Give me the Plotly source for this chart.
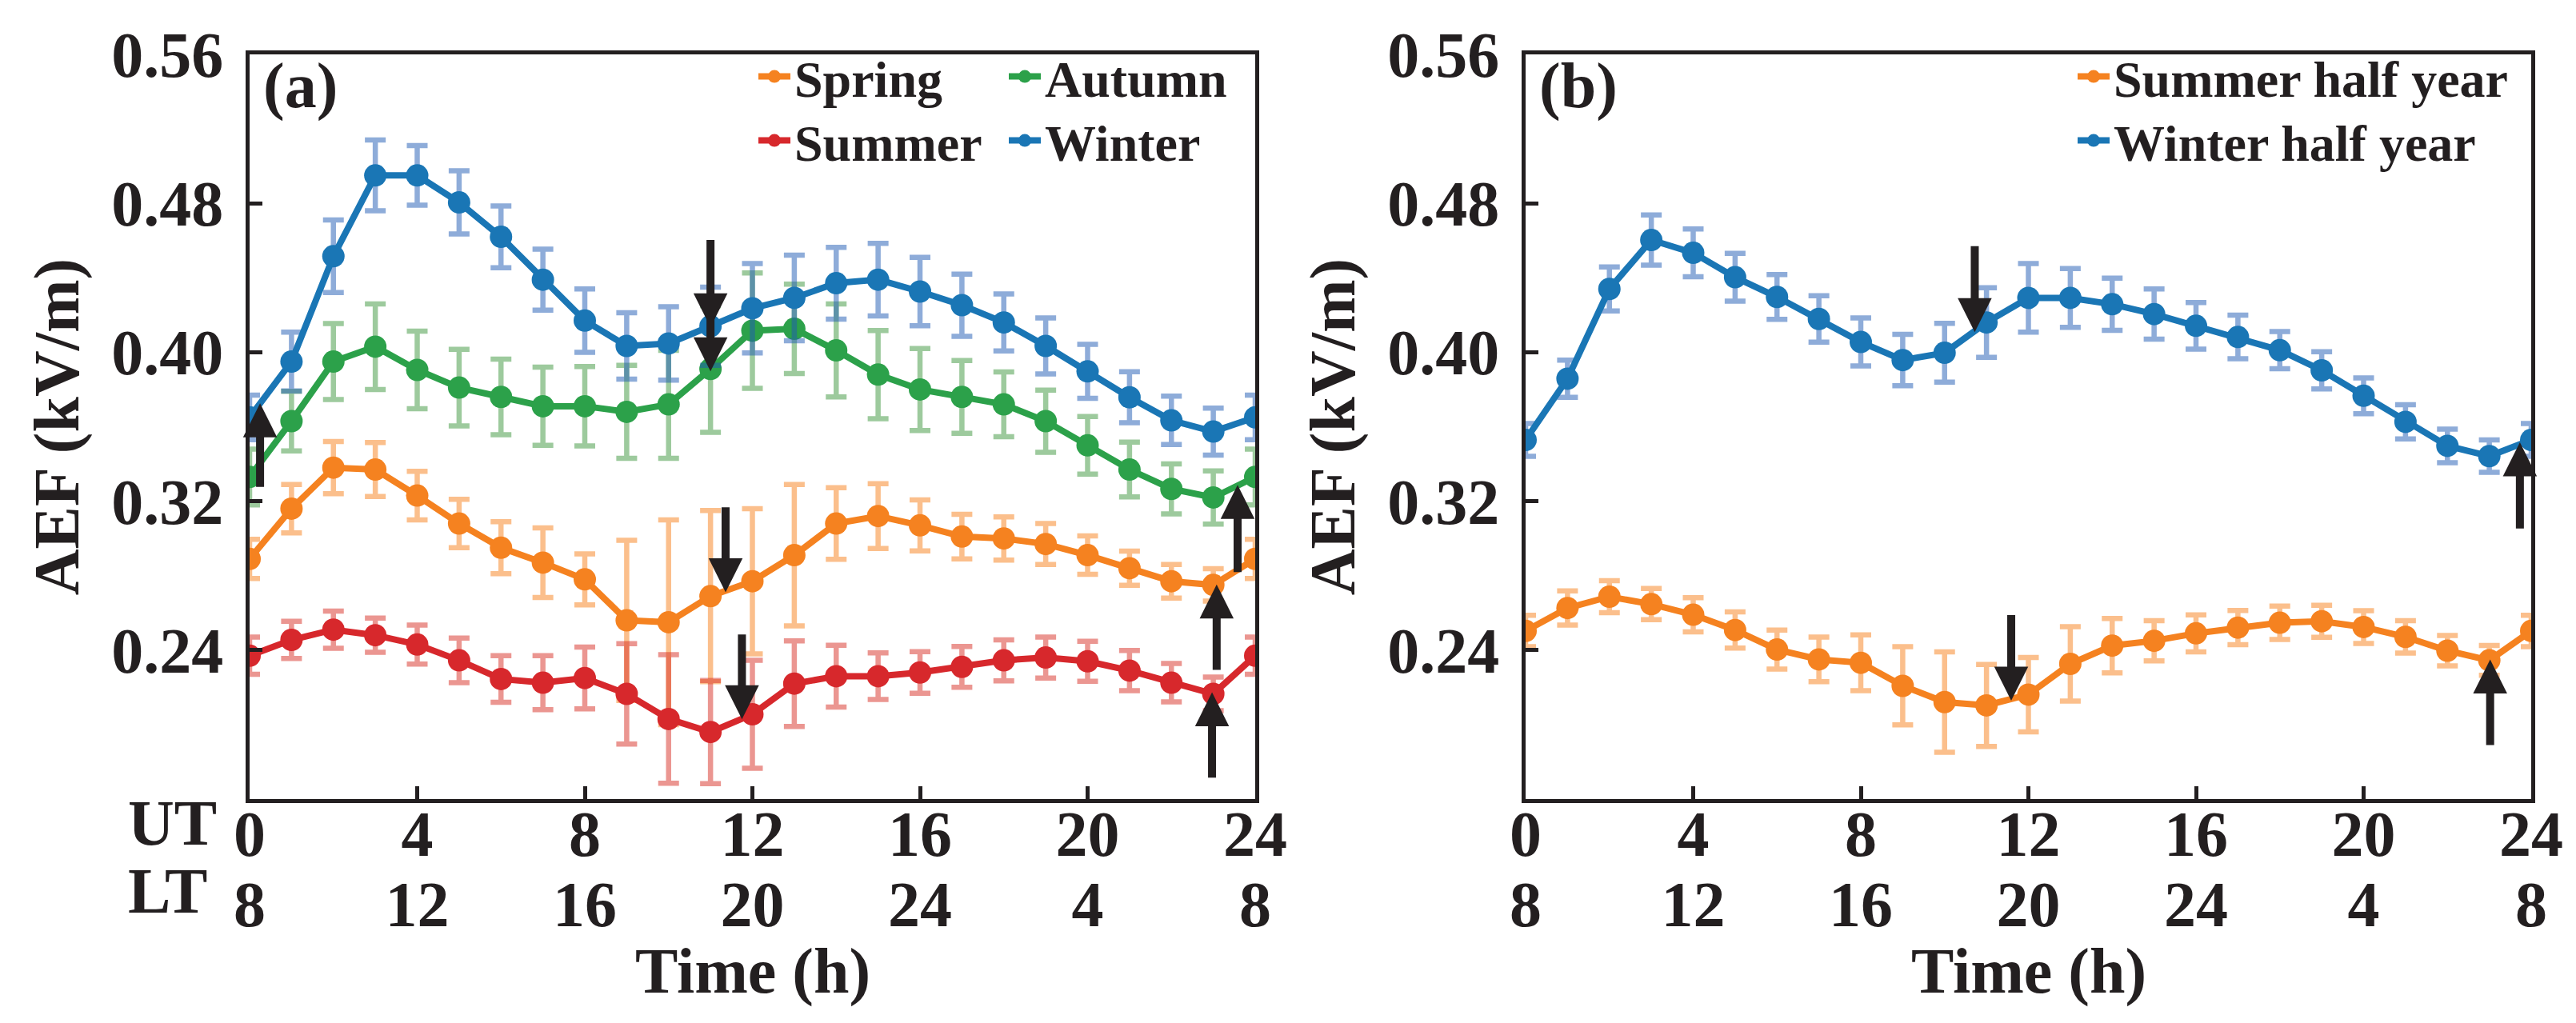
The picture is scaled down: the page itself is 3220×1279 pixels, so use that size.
import plotly.graph_objects as go

hours = list(range(25))
ut_ticks = [0, 4, 8, 12, 16, 20, 24]
ut_text = ["0", "4", "8", "12", "16", "20", "24"]
lt_text = ["8", "12", "16", "20", "24", "4", "8"]
y_ticks = [0.24, 0.32, 0.40, 0.48, 0.56]

# panel (a): seasons
spring = [0.289, 0.316, 0.338, 0.337, 0.323, 0.308, 0.295, 0.287, 0.278, 0.256, 0.255, 0.269, 0.277,
          0.291, 0.308, 0.312, 0.307, 0.301, 0.300, 0.297, 0.291, 0.284, 0.277, 0.275, 0.289]
spring_err = [0.0105, 0.013, 0.014, 0.0145, 0.013, 0.013, 0.014, 0.0187, 0.0137, 0.043, 0.055, 0.046, 0.039,
              0.038, 0.0192, 0.0174, 0.0137, 0.012, 0.0116, 0.011, 0.0103, 0.0092, 0.009, 0.0087, 0.0105]
summer = [0.237, 0.2455, 0.251, 0.248, 0.243, 0.2345, 0.2245, 0.2225, 0.225, 0.2165, 0.203, 0.196, 0.2055,
          0.222, 0.226, 0.226, 0.228, 0.231, 0.2345, 0.236, 0.234, 0.229, 0.2225, 0.2165, 0.237]
summer_err = [0.010, 0.010, 0.010, 0.0092, 0.0105, 0.012, 0.0125, 0.0145, 0.0166, 0.027, 0.0345, 0.0277, 0.029,
              0.023, 0.0166, 0.0125, 0.0112, 0.011, 0.011, 0.011, 0.0107, 0.0108, 0.0103, 0.009, 0.010]
autumn = [0.333, 0.363, 0.395, 0.403, 0.3905, 0.381, 0.376, 0.371, 0.371, 0.368, 0.372, 0.391, 0.4116,
          0.4126, 0.401, 0.388, 0.380, 0.376, 0.372, 0.363, 0.350, 0.337, 0.3266, 0.322, 0.333]
autumn_err = [0.015, 0.016, 0.0204, 0.023, 0.0208, 0.0206, 0.0203, 0.021, 0.0213, 0.025, 0.029, 0.034, 0.031,
              0.024, 0.025, 0.0237, 0.022, 0.0195, 0.0174, 0.0167, 0.0155, 0.0147, 0.0134, 0.0143, 0.015]
winter = [0.365, 0.395, 0.4516, 0.495, 0.495, 0.4805, 0.462, 0.439, 0.417, 0.4034, 0.4047, 0.414, 0.4236,
          0.4292, 0.4371, 0.439, 0.4326, 0.4253, 0.416, 0.4034, 0.3897, 0.3758, 0.3634, 0.3574, 0.365]
winter_err = [0.012, 0.0158, 0.0195, 0.019, 0.016, 0.017, 0.0166, 0.0164, 0.017, 0.0178, 0.0197, 0.021, 0.024,
              0.023, 0.0193, 0.0195, 0.0184, 0.0167, 0.0153, 0.015, 0.0145, 0.0137, 0.013, 0.0126, 0.012]

# panel (b): half years
summer_half = [0.2503, 0.2626, 0.2687, 0.2647, 0.259, 0.2508, 0.2403, 0.235, 0.2332, 0.2208, 0.2121, 0.2103,
               0.2161, 0.2326, 0.2424, 0.245, 0.249, 0.2521, 0.2547, 0.2555, 0.2524, 0.2471, 0.2397, 0.2345, 0.2503]
summer_half_err = [0.0084, 0.0092, 0.0086, 0.0084, 0.0092, 0.0097, 0.0105, 0.012, 0.015, 0.021, 0.027, 0.022,
                   0.020, 0.020, 0.0146, 0.0108, 0.0099, 0.0092, 0.009, 0.0086, 0.0088, 0.0087, 0.0082, 0.008, 0.0084]
winter_half = [0.3529, 0.3858, 0.434, 0.4603, 0.4534, 0.4403, 0.4297, 0.4179, 0.4055, 0.3958, 0.3997, 0.416,
               0.4292, 0.4292, 0.4258, 0.4205, 0.4142, 0.4082, 0.4011, 0.3903, 0.3766, 0.3626, 0.3497, 0.3442, 0.3529]
winter_half_err = [0.0088, 0.010, 0.0118, 0.0135, 0.0128, 0.0128, 0.012, 0.0125, 0.0129, 0.0138, 0.0158, 0.0187,
                   0.0184, 0.0158, 0.014, 0.0135, 0.0125, 0.0117, 0.010, 0.010, 0.0096, 0.0092, 0.009, 0.0087, 0.0088]

# arrows: hour, tail value, tip value
arrows_a_x = [0.25, 11, 11, 11.36, 11.75, 23.58, 23.08, 22.97]
arrows_a_tail = [0.327, 0.461, 0.420, 0.3174, 0.249, 0.2813, 0.2287, 0.1708]
arrows_a_tip = [0.3726, 0.4134, 0.3897, 0.2711, 0.2029, 0.3287, 0.2753, 0.2174]
arrows_b_x = [10.72, 11.59, 23.73, 23.02]
arrows_b_tail = [0.4576, 0.2595, 0.3047, 0.1884]
arrows_b_tip = [0.4108, 0.2129, 0.3516, 0.235]

INK = "#231f20"
FONT = "Liberation Serif"
W, H = 3220, 1279

fig = go.Figure()


def add_series(name, y, err, color, errcolor, xa, ya, legend):
    fig.add_trace(go.Scatter(
        x=hours, y=y, name=name, mode="lines+markers",
        line=dict(color=color, width=8),
        marker=dict(color=color, size=28),
        error_y=dict(type="data", array=err, visible=True, color=errcolor, thickness=6.5, width=13),
        xaxis=xa, yaxis=ya, legend=legend,
    ))


add_series("Spring", spring, spring_err, "#f58220", "rgba(247,128,25,0.5)", "x", "y", "legend")
add_series("Summer", summer, summer_err, "#d7282c", "rgba(215,45,35,0.5)", "x", "y", "legend2")
add_series("Autumn", autumn, autumn_err, "#2ca14a", "rgba(60,150,60,0.5)", "x", "y", "legend")
add_series("Winter", winter, winter_err, "#1a76b5", "rgba(30,90,180,0.5)", "x", "y", "legend2")
add_series("Summer half year", summer_half, summer_half_err, "#f58220", "rgba(247,128,25,0.5)", "x2", "y2", "legend3")
add_series("Winter half year", winter_half, winter_half_err, "#1a76b5", "rgba(30,90,180,0.5)", "x2", "y2", "legend4")

big = dict(family=FONT, size=80, color=INK, weight="bold")
base_x = dict(range=[0, 24], tickvals=ut_ticks, ticktext=ut_text, ticks="inside", ticklen=16, tickwidth=4.5,
              tickcolor=INK, showline=True, linewidth=4.5, linecolor=INK, mirror=True, showgrid=False,
              zeroline=False, tickfont=big, ticklabelstandoff=-30, automargin=False)
base_y = dict(range=[0.16, 0.56], tickvals=y_ticks, ticktext=["%.2f" % v for v in y_ticks], ticks="inside",
              ticklen=16, tickwidth=4.5, tickcolor=INK, showline=True, linewidth=4.5, linecolor=INK,
              mirror=True, showgrid=False, zeroline=False, tickfont=big, ticklabelstandoff=12, automargin=False,
              title=dict(text="AEF (kV/m)", font=big, standoff=16))
lt_x = dict(range=[0, 24], tickvals=ut_ticks, ticktext=lt_text, ticks="", showline=False, showgrid=False,
            zeroline=False, tickfont=big, ticklabelstandoff=78, side="bottom", automargin=False)

dom_a = [304 / W, 1561 / W]
dom_b = [1899 / W, 3156 / W]
dom_y = [1 - 991 / H, 1 - 60 / H]

fig.update_layout(
    width=W, height=H, margin=dict(l=0, r=0, t=0, b=0, autoexpand=False),
    paper_bgcolor="white", plot_bgcolor="white",
    font=dict(family=FONT, color=INK),
    xaxis=dict(base_x, domain=dom_a, anchor="y"),
    yaxis=dict(base_y, domain=dom_y, anchor="x"),
    xaxis2=dict(base_x, domain=dom_b, anchor="y2"),
    yaxis2=dict(base_y, domain=dom_y, anchor="x2"),
    xaxis3=dict(lt_x, overlaying="x", anchor="y"),
    xaxis4=dict(lt_x, overlaying="x2", anchor="y2"),
    showlegend=True,
)

leg_font = dict(family=FONT, size=64, color=INK, weight="bold")
leg_common = dict(orientation="h", font=leg_font, bgcolor="rgba(0,0,0,0)", entrywidthmode="pixels",
                  xanchor="left", yanchor="middle", itemwidth=40, tracegroupgap=0)
fig.update_layout(
    legend=dict(leg_common, x=935 / W, y=1 - 88 / H, entrywidth=258),
    legend2=dict(leg_common, x=935 / W, y=1 - 168 / H, entrywidth=258),
    legend3=dict(leg_common, x=2584 / W, y=1 - 88 / H, entrywidth=520),
    legend4=dict(leg_common, x=2584 / W, y=1 - 168 / H, entrywidth=520),
)

# empty traces so the LT axes are drawn
for xa, ya in [("x3", "y"), ("x4", "y2")]:
    fig.add_trace(go.Scatter(x=[None], y=[None], xaxis=xa, yaxis=ya, showlegend=False, hoverinfo="skip"))

annotations = []
for xr, yr, xs, tails, tips in [("x", "y", arrows_a_x, arrows_a_tail, arrows_a_tip),
                                ("x2", "y2", arrows_b_x, arrows_b_tail, arrows_b_tip)]:
    for hx, t0, t1 in zip(xs, tails, tips):
        annotations.append(dict(x=hx, y=t1, ax=hx, ay=t0, xref=xr, yref=yr, axref=xr, ayref=yr,
                                text="", showarrow=True, arrowhead=2, arrowsize=0.85, arrowwidth=10,
                                arrowcolor=INK, standoff=0))

annotations += [
    dict(text="(a)", xref="x domain", yref="y domain", x=0.012, y=1.008, xanchor="left", yanchor="top",
         showarrow=False, font=big),
    dict(text="(b)", xref="x2 domain", yref="y2 domain", x=0.012, y=1.008, xanchor="left", yanchor="top",
         showarrow=False, font=big),
    dict(text="UT", xref="paper", yref="paper", x=150 / W, y=1 - 1021 / H, xanchor="left",
         yanchor="middle", showarrow=False, font=big),
    dict(text="LT", xref="paper", yref="paper", x=150 / W, y=1 - 1106 / H, xanchor="left",
         yanchor="middle", showarrow=False, font=big),
    dict(text="Time (h)", xref="x domain", yref="paper", x=0.5, y=1 - 1206 / H, xanchor="center",
         yanchor="middle", showarrow=False, font=big),
    dict(text="Time (h)", xref="x2 domain", yref="paper", x=0.5, y=1 - 1206 / H, xanchor="center",
         yanchor="middle", showarrow=False, font=big),
]
fig.update_layout(annotations=annotations)

fig.write_html("out.html")
